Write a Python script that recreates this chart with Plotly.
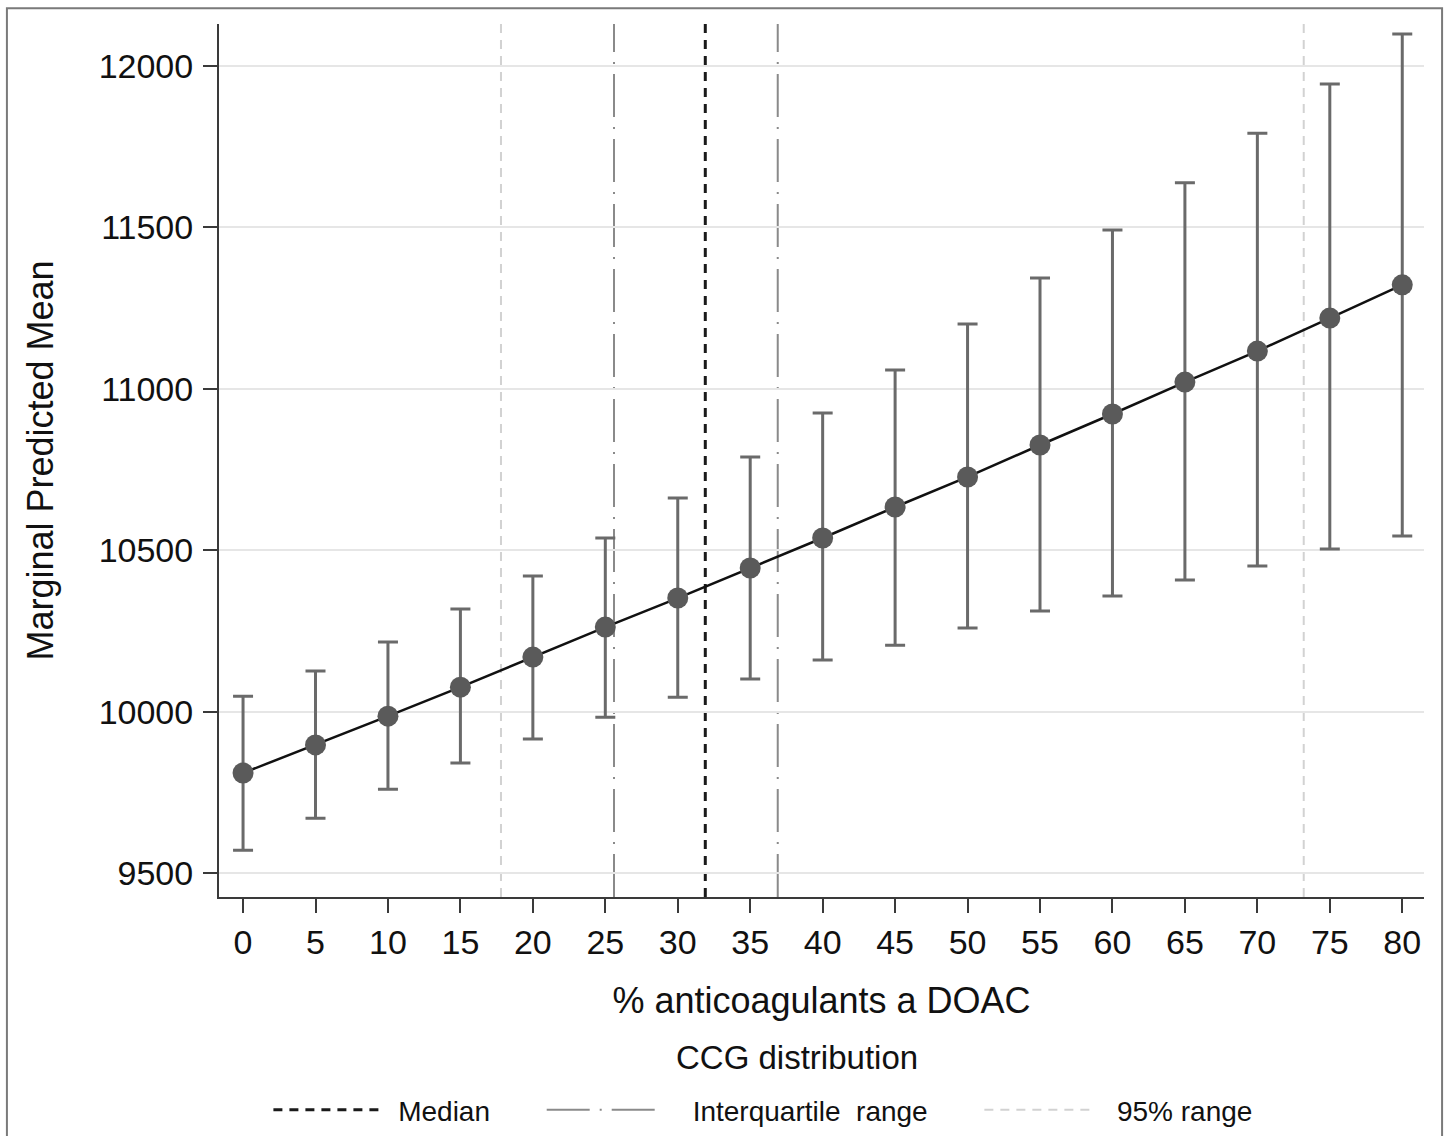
import plotly.graph_objects as go

# ---- data ----
pct_doac = [0, 5, 10, 15, 20, 25, 30, 35, 40, 45, 50, 55, 60, 65, 70, 75, 80]
pred_mean = [9810, 9897, 9986, 10076, 10169, 10262, 10352, 10445, 10538,
             10634, 10727, 10826, 10922, 11021, 11117, 11219, 11322]
ci_upper = [10048, 10126, 10216, 10318, 10420, 10538, 10662, 10789, 10925,
            11058, 11201, 11343, 11492, 11638, 11792, 11944, 12099]
ci_lower = [9571, 9670, 9760, 9841, 9915, 9983, 10045, 10101, 10160,
            10206, 10259, 10312, 10358, 10408, 10451, 10504, 10544]

ccg_median = 31.9
ccg_iqr = [25.6, 36.9]
ccg_95 = [17.8, 73.2]

x_ticks = list(range(0, 81, 5))
y_ticks = [9500, 10000, 10500, 11000, 11500, 12000]
y_ticktext = [str(v) for v in y_ticks]

FONT = "Liberation Sans, Arial, sans-serif"
NB = "\u00a0"

err_plus = [u - m for u, m in zip(ci_upper, pred_mean)]
err_minus = [m - l for m, l in zip(pred_mean, ci_lower)]

fig = go.Figure()

fig.add_trace(go.Scatter(
    x=pct_doac, y=pred_mean, mode="lines+markers",
    line=dict(color="#111111", width=2.5),
    marker=dict(size=21, color="#5a5a5a"),
    error_y=dict(type="data", array=err_plus, arrayminus=err_minus,
                 color="#6a6a6a", thickness=3, width=10),
    showlegend=False,
))

# reference lines (CCG distribution)
fig.add_shape(type="line", x0=ccg_median, x1=ccg_median, y0=0, y1=1,
              xref="x", yref="y domain",
              line=dict(color="#1a1a1a", width=3, dash="9px,7px"),
              name=NB + "Median" + NB * 6, showlegend=True, layer="below")
for i, v in enumerate(ccg_iqr):
    fig.add_shape(type="line", x0=v, x1=v, y0=0, y1=1,
                  xref="x", yref="y domain",
                  line=dict(color="#8a8a8a", width=2, dash="43px,10px,2px,10px"),
                  name=NB * 3 + "\u2009" + "Interquartile" + NB * 2 + "range" + NB * 6,
                  showlegend=(i == 0), legendgroup="iqr", layer="below")
for i, v in enumerate(ccg_95):
    fig.add_shape(type="line", x0=v, x1=v, y0=0, y1=1,
                  xref="x", yref="y domain",
                  line=dict(color="#d2d2d2", width=2, dash="9px,7px"),
                  name=NB * 2 + "95% range", showlegend=(i == 0),
                  legendgroup="r95", layer="below")

# outer frame
fig.add_shape(type="rect", xref="paper", yref="paper",
              x0=-0.176, x1=1.015, y0=-0.30, y1=1.018,
              line=dict(color="#7a7a7a", width=2), fillcolor="rgba(0,0,0,0)")

fig.add_annotation(text="CCG distribution", xref="paper", yref="paper",
                   x=0.48, y=-0.1844, xanchor="center", yanchor="middle",
                   showarrow=False,
                   font=dict(family=FONT, size=33, color="#111111"))

fig.update_layout(
    width=1447, height=1136,
    margin=dict(l=219, r=23, t=24, b=239, autoexpand=False),
    paper_bgcolor="white", plot_bgcolor="white",
    font=dict(family=FONT, color="#111111"),
    showlegend=True,
    legend=dict(orientation="h", x=0.041, xanchor="left",
                y=-0.244, yanchor="middle",
                font=dict(family=FONT, size=28, color="#111111"),
                itemwidth=112, bgcolor="rgba(0,0,0,0)"),
    xaxis=dict(
        range=[-1.66, 81.5], tickmode="array", tickvals=x_ticks,
        ticks="outside", ticklen=14, tickwidth=2, tickcolor="#3a3a3a",
        showline=True, linecolor="#3a3a3a", linewidth=2,
        showgrid=False, zeroline=False,
        tickfont=dict(family=FONT, size=34, color="#111111"),
        ticklabelstandoff=0,
        title=dict(text="% anticoagulants a DOAC", standoff=28,
                   font=dict(family=FONT, size=36, color="#111111")),
    ),
    yaxis=dict(
        range=[9426, 12130], tickmode="array", tickvals=y_ticks,
        ticktext=y_ticktext,
        ticks="outside", ticklen=14, tickwidth=2, tickcolor="#3a3a3a",
        showline=True, linecolor="#3a3a3a", linewidth=2,
        showgrid=True, gridcolor="#e6e6e6", gridwidth=2, zeroline=False,
        tickfont=dict(family=FONT, size=34, color="#111111"),
        ticklabelstandoff=3,
        title=dict(text="Marginal Predicted Mean", standoff=34,
                   font=dict(family=FONT, size=36, color="#111111")),
    ),
)

fig.write_html("out.html")
